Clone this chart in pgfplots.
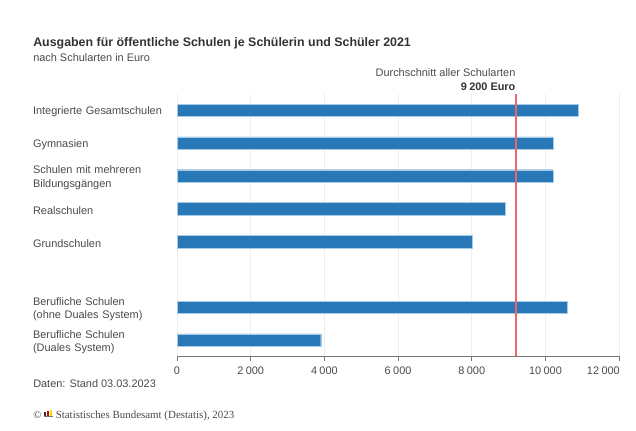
\documentclass[border=0pt]{standalone}
\usepackage{pgfplots}
\pgfplotsset{compat=1.18}
\usepackage{fontspec}
\setmainfont{Liberation Sans}
\newfontfamily\serifrm{Liberation Serif}
\definecolor{barblue}{HTML}{2878B8}
\definecolor{baredge}{HTML}{A5CCE8}
\definecolor{avgred}{HTML}{F0646E}
\definecolor{txt}{HTML}{4A4A4A}
\definecolor{head}{HTML}{333333}
\definecolor{gridc}{HTML}{EDEDED}
\definecolor{axisc}{HTML}{777777}
\newcommand{\lab}{\fontsize{8.2pt}{9.9pt}\selectfont}

\begin{document}
\begin{tikzpicture}
\path[use as bounding box] (0,0) rectangle (477pt,323.25pt);

\begin{axis}[
    at={(132.75pt,55.875pt)}, anchor=south west,
    scale only axis,
    width=331.6pt, height=196.9pt,
    xmin=0, xmax=12000,
    ymin=-0.5, ymax=7.5,
    y dir=reverse,
    axis x line=bottom,
    axis y line=left,
    x axis line style={draw=axisc,-},
    y axis line style={draw=none},
    xtick={0,2000,4000,6000,8000,10000},
    extra x ticks={12000},
    extra x tick style={
        grid=major,
        xticklabel style={anchor=north east,xshift=4pt},
    },
    ytick={0,1,2,3,4,6,7},
    yticklabels={
        Integrierte Gesamtschulen,
        Gymnasien,
        Schulen mit mehreren\\Bildungsgängen,
        Realschulen,
        Grundschulen,
        Berufliche Schulen\\(ohne Duales System),
        Berufliche Schulen\\(Duales System)},
    yticklabel style={align=left,text width=104.25pt,inner sep=0pt,anchor=east,yshift=-1.3pt},
    ytick style={draw=none},
    xtick style={draw=axisc,line width=0.6pt},
    tick align=outside,
    major tick length=3.5pt,
    xmajorgrids,
    major grid style={draw=gridc,line width=0.6pt},
    scaled x ticks=false,
    /pgf/number format/.cd,assume math mode=true,1000 sep={\hspace{0.22em}},
    /pgfplots/.cd,
    tick label style={font=\lab,text=txt},
    xticklabel style={yshift=-0.7pt},
]
\addplot[xbar,bar width=9.4pt,fill=barblue,draw=baredge,line width=0.25pt] coordinates {
    (10900,0) (10200,1) (10200,2) (8900,3) (8000,4) (10600,6) (3900,7)
};
\addplot[avgred,line width=1.6pt,sharp plot,forget plot] coordinates {(9200,-0.5) (9200,7.5)};
\end{axis}

\begin{scope}[shift={(0,323.25pt)},x=0.75pt,y=-0.75pt]
\node[anchor=base west,inner sep=0pt,text=head,font=\fontsize{9.3pt}{11pt}\selectfont\bfseries] at (33,47) {Ausgaben für öffentliche Schulen je Schülerin und Schüler 2021};
\node[anchor=base west,inner sep=0pt,text=txt,font=\lab] at (33,61.5) {nach Schularten in Euro};
\node[anchor=base east,inner sep=0pt,text=txt,font=\lab] at (515.7,77) {Durchschnitt aller Schularten};
\node[anchor=base east,inner sep=0pt,text=head,font=\lab\bfseries] at (515.7,90.3) {9\hspace{0.22em}200 Euro};
\node[anchor=base west,inner sep=0pt,text=txt,font=\lab] at (33,388) {Daten: Stand 03.03.2023};
\node[anchor=base west,inner sep=0pt,text=txt,font=\fontsize{8.2pt}{10pt}\selectfont\serifrm] at (55.5,418.5) {Statistisches Bundesamt (Destatis), 2023};
\node[anchor=base west,inner sep=0pt,text=txt,font=\fontsize{8pt}{10pt}\selectfont\serifrm] at (33,419) {©};
\fill[axisc] (44,416.5) rectangle (52.5,417.3);
\fill[head] (44.3,412) rectangle (46,416.5);
\fill[red!80!black] (47.3,411) rectangle (49,416.5);
\fill[yellow!80!orange] (50.3,410) rectangle (52,416.5);
\end{scope}
\end{tikzpicture}
\end{document}
